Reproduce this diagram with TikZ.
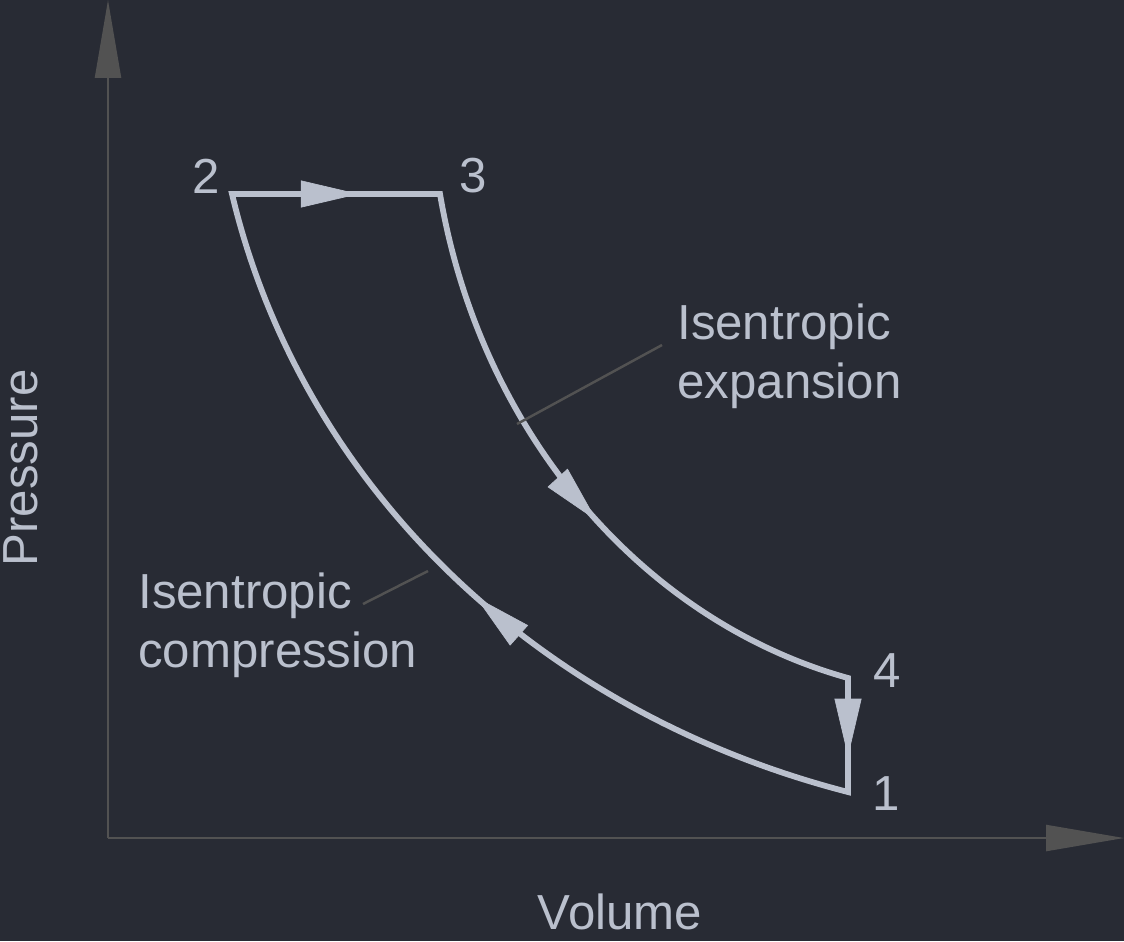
\documentclass[tikz,border=0pt]{standalone}
\usepackage{fontspec}
\setmainfont{Liberation Sans}
\usetikzlibrary{arrows.meta}
\usetikzlibrary{decorations.markings}

\definecolor{bgcol}{RGB}{40,43,52}
\definecolor{loopcol}{RGB}{186,192,205}
\definecolor{axiscol}{RGB}{82,82,82}

\tikzset{
  cycleline/.style={loopcol, line width=3.3pt, line join=miter},
  axisline/.style={axiscol, line width=1.3pt, -{Triangle[length=1.56cm,width=0.52cm]}},
  leader/.style={axiscol, line width=1.4pt},
  lbl/.style={text=loopcol, font=\fontsize{28}{34}\selectfont, inner sep=0pt},
  flowmark/.style={decoration={markings,
      mark=at position #1 with {\arrow[loopcol]{Triangle[length=1.16cm,width=0.54cm]}}},
    decorate}
}

\begin{document}
\begin{tikzpicture}[x=0.02cm, y=-0.02cm]
\fill[bgcol] (0,0) rectangle (1124,941);
\useasboundingbox (0,0) rectangle (1124,941);

% corners of the cycle and the axes
\coordinate (p2) at (232,194);
\coordinate (p3) at (440,194);
\coordinate (p4) at (848,678);
\coordinate (p1) at (848,792);
\coordinate (o) at (108,838);
\coordinate (ytop) at (108,0);
\coordinate (xend) at (1124,838);

% axes
\draw[axisline] (o) -- (ytop);
\draw[axisline] (o) -- (xend);

% the cycle
\draw[cycleline] (p2) -- (p3) .. controls (480,430) and (640,620) .. (p4)
  -- (p1) .. controls (530,710) and (300,480) .. (p2) -- cycle;

% flow arrows
\path[flowmark=0.61] (p2) -- (p3);
\path[flowmark=0.55] (p3) .. controls (480,430) and (640,620) .. (p4);
\path[flowmark=0.69] (p4) -- (p1);
\path[flowmark=0.47] (p1) .. controls (530,710) and (300,480) .. (p2);

% state numbers
\node[lbl] (n2) at (206,176) {2};
\node[lbl] (n3) at (473,176) {3};
\node[lbl] (n4) at (887,671) {4};
\node[lbl] (n1) at (886,794) {1};

% process labels
\node[lbl, align=left, anchor=north west] (expl) at (677,303) {Isentropic\\expansion};
\node[lbl, align=left, anchor=north west] (compl) at (138,572) {Isentropic\\compression};
\coordinate (expfoot) at (517,424);
\coordinate (expend) at (662,345);
\coordinate (compfoot) at (428,571);
\coordinate (compend) at (363,604);
\draw[leader] (expfoot) -- (expend);
\draw[leader] (compfoot) -- (compend);

% axis names
\node[lbl, rotate=90] (ylab) at (21,468) {Pressure};
\node[lbl] (xlab) at (620,912) {Volume};
\end{tikzpicture}
\end{document}
